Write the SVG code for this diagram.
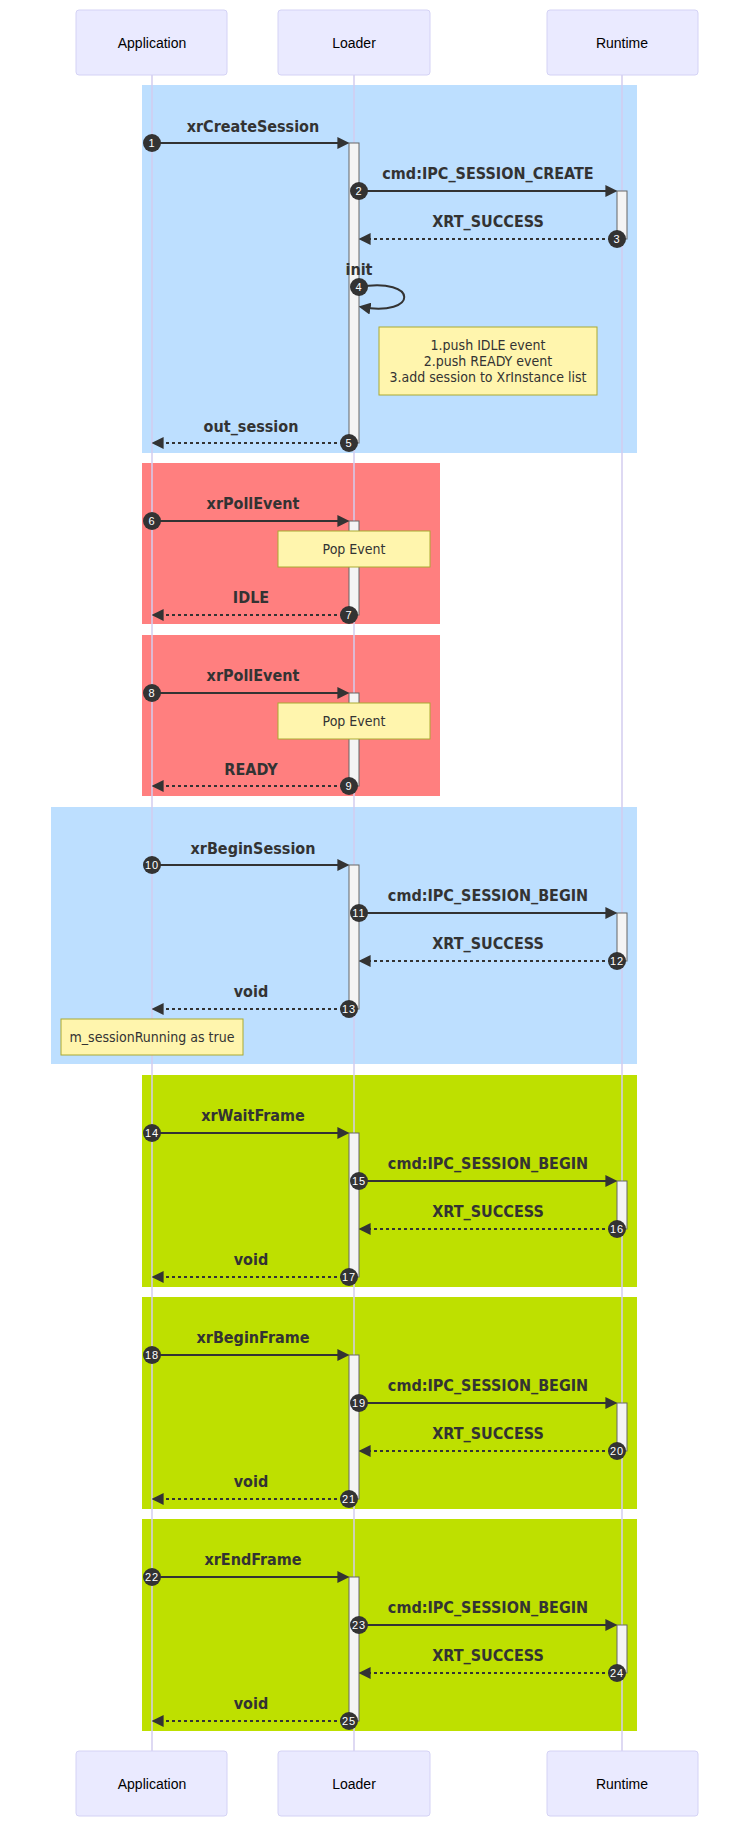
<svg xmlns="http://www.w3.org/2000/svg" width="740" height="1827" viewBox="0 0 740 1827">
<style>
.actor{fill:#eaeaff;stroke:#d4d2f5;stroke-width:1}
.alab{font-family:"Liberation Sans",Arial,sans-serif;font-size:14px;fill:#000;text-anchor:middle}
.life{stroke:#d3cdef;stroke-width:1.5}
.msg{stroke:#333;stroke-width:2;fill:none}
.dash{stroke-dasharray:3,3}
.mlab{font-family:"DejaVu Sans Condensed","DejaVu Sans",sans-serif;font-size:16px;font-weight:bold;fill:#333;text-anchor:middle}
.act{fill:#f4f4f4;stroke:#666;stroke-width:1}
.note{fill:#fff5ad;stroke:#aaaa33;stroke-width:1}
.nlab{font-family:"DejaVu Sans Condensed","DejaVu Sans",sans-serif;font-size:14px;fill:#333;text-anchor:middle}
.num circle{fill:#333}
.num text{font-family:"Liberation Sans",Arial,sans-serif;font-size:11px;fill:#fff;text-anchor:middle;letter-spacing:1px}
</style>
<defs>
<marker id="ah" markerUnits="userSpaceOnUse" markerWidth="12" markerHeight="12" refX="8" refY="5" orient="auto" viewBox="0 0 10 10"><path d="M0 0 L10 5 L0 10 z" fill="#333"/></marker>
</defs>
<g id="frames">
<rect x="142" y="85" width="495" height="368" fill="#bddfff"/>
<rect x="142" y="463" width="298" height="161" fill="#ff7f7f"/>
<rect x="142" y="635" width="298" height="161" fill="#ff7f7f"/>
<rect x="51" y="807" width="586" height="257" fill="#bddfff"/>
<rect x="142" y="1075" width="495" height="212" fill="#bee000"/>
<rect x="142" y="1297" width="495" height="212" fill="#bee000"/>
<rect x="142" y="1519" width="495" height="212" fill="#bee000"/>
</g>
<g id="lifelines">
<line class="life" x1="152" y1="75" x2="152" y2="1751"/>
<line class="life" x1="354" y1="75" x2="354" y2="1751"/>
<line class="life" x1="622" y1="75" x2="622" y2="1751"/>
</g>
<g id="actor-application-top"><rect class="actor" x="76" y="10" width="151" height="65" rx="3"/><text class="alab" x="152" y="48">Application</text></g>
<g id="actor-loader-top"><rect class="actor" x="278" y="10" width="152" height="65" rx="3"/><text class="alab" x="354" y="48">Loader</text></g>
<g id="actor-runtime-top"><rect class="actor" x="547" y="10" width="151" height="65" rx="3"/><text class="alab" x="622" y="48">Runtime</text></g>
<g id="actor-application-bottom"><rect class="actor" x="76" y="1751" width="151" height="65" rx="3"/><text class="alab" x="152" y="1789">Application</text></g>
<g id="actor-loader-bottom"><rect class="actor" x="278" y="1751" width="152" height="65" rx="3"/><text class="alab" x="354" y="1789">Loader</text></g>
<g id="actor-runtime-bottom"><rect class="actor" x="547" y="1751" width="151" height="65" rx="3"/><text class="alab" x="622" y="1789">Runtime</text></g>
<g id="activations">
<rect class="act" x="349" y="143" width="10" height="300"/>
<rect class="act" x="617" y="191" width="10" height="48"/>
<rect class="act" x="349" y="521" width="10" height="94"/>
<rect class="act" x="349" y="693" width="10" height="93"/>
<rect class="act" x="349" y="865" width="10" height="144"/>
<rect class="act" x="617" y="913" width="10" height="48"/>
<rect class="act" x="349" y="1133" width="10" height="144"/>
<rect class="act" x="617" y="1181" width="10" height="48"/>
<rect class="act" x="349" y="1355" width="10" height="144"/>
<rect class="act" x="617" y="1403" width="10" height="48"/>
<rect class="act" x="349" y="1577" width="10" height="144"/>
<rect class="act" x="617" y="1625" width="10" height="48"/>
</g>
<g id="notes">
<g id="note-init"><rect class="note" x="379" y="327" width="218" height="68"/><text class="nlab" x="488" y="350">1.push IDLE event</text><text class="nlab" x="488" y="366">2.push READY event</text><text class="nlab" x="488" y="382">3.add session to XrInstance list</text></g>
<g id="note-pop1"><rect class="note" x="278" y="531" width="152" height="36"/><text class="nlab" x="354" y="554">Pop Event</text></g>
<g id="note-pop2"><rect class="note" x="278" y="703" width="152" height="36"/><text class="nlab" x="354" y="726">Pop Event</text></g>
<g id="note-running"><rect class="note" x="61" y="1019" width="182" height="36"/><text class="nlab" x="152" y="1042">m_sessionRunning as true</text></g>
</g>
<g id="connectors">
<line class="msg" x1="152" y1="143" x2="347" y2="143" marker-end="url(#ah)"/>
<line class="msg" x1="359" y1="191" x2="615" y2="191" marker-end="url(#ah)"/>
<line class="msg dash" x1="617" y1="239" x2="361" y2="239" marker-end="url(#ah)"/>
<path class="msg" d="M359 287 C419 277 419 317 361 307" marker-end="url(#ah)"/>
<line class="msg dash" x1="349" y1="443" x2="154" y2="443" marker-end="url(#ah)"/>
<line class="msg" x1="152" y1="521" x2="347" y2="521" marker-end="url(#ah)"/>
<line class="msg dash" x1="349" y1="615" x2="154" y2="615" marker-end="url(#ah)"/>
<line class="msg" x1="152" y1="693" x2="347" y2="693" marker-end="url(#ah)"/>
<line class="msg dash" x1="349" y1="786" x2="154" y2="786" marker-end="url(#ah)"/>
<line class="msg" x1="152" y1="865" x2="347" y2="865" marker-end="url(#ah)"/>
<line class="msg" x1="359" y1="913" x2="615" y2="913" marker-end="url(#ah)"/>
<line class="msg dash" x1="617" y1="961" x2="361" y2="961" marker-end="url(#ah)"/>
<line class="msg dash" x1="349" y1="1009" x2="154" y2="1009" marker-end="url(#ah)"/>
<line class="msg" x1="152" y1="1133" x2="347" y2="1133" marker-end="url(#ah)"/>
<line class="msg" x1="359" y1="1181" x2="615" y2="1181" marker-end="url(#ah)"/>
<line class="msg dash" x1="617" y1="1229" x2="361" y2="1229" marker-end="url(#ah)"/>
<line class="msg dash" x1="349" y1="1277" x2="154" y2="1277" marker-end="url(#ah)"/>
<line class="msg" x1="152" y1="1355" x2="347" y2="1355" marker-end="url(#ah)"/>
<line class="msg" x1="359" y1="1403" x2="615" y2="1403" marker-end="url(#ah)"/>
<line class="msg dash" x1="617" y1="1451" x2="361" y2="1451" marker-end="url(#ah)"/>
<line class="msg dash" x1="349" y1="1499" x2="154" y2="1499" marker-end="url(#ah)"/>
<line class="msg" x1="152" y1="1577" x2="347" y2="1577" marker-end="url(#ah)"/>
<line class="msg" x1="359" y1="1625" x2="615" y2="1625" marker-end="url(#ah)"/>
<line class="msg dash" x1="617" y1="1673" x2="361" y2="1673" marker-end="url(#ah)"/>
<line class="msg dash" x1="349" y1="1721" x2="154" y2="1721" marker-end="url(#ah)"/>
</g>
<g id="message-labels">
<text class="mlab" x="253" y="132">xrCreateSession</text>
<text class="mlab" x="488" y="179">cmd:IPC_SESSION_CREATE</text>
<text class="mlab" x="488" y="227">XRT_SUCCESS</text>
<text class="mlab" x="359" y="275">init</text>
<text class="mlab" x="251" y="432">out_session</text>
<text class="mlab" x="253" y="509">xrPollEvent</text>
<text class="mlab" x="251" y="603">IDLE</text>
<text class="mlab" x="253" y="681">xrPollEvent</text>
<text class="mlab" x="251" y="775">READY</text>
<text class="mlab" x="253" y="854">xrBeginSession</text>
<text class="mlab" x="488" y="901">cmd:IPC_SESSION_BEGIN</text>
<text class="mlab" x="488" y="949">XRT_SUCCESS</text>
<text class="mlab" x="251" y="997">void</text>
<text class="mlab" x="253" y="1121">xrWaitFrame</text>
<text class="mlab" x="488" y="1169">cmd:IPC_SESSION_BEGIN</text>
<text class="mlab" x="488" y="1217">XRT_SUCCESS</text>
<text class="mlab" x="251" y="1265">void</text>
<text class="mlab" x="253" y="1343">xrBeginFrame</text>
<text class="mlab" x="488" y="1391">cmd:IPC_SESSION_BEGIN</text>
<text class="mlab" x="488" y="1439">XRT_SUCCESS</text>
<text class="mlab" x="251" y="1487">void</text>
<text class="mlab" x="253" y="1565">xrEndFrame</text>
<text class="mlab" x="488" y="1613">cmd:IPC_SESSION_BEGIN</text>
<text class="mlab" x="488" y="1661">XRT_SUCCESS</text>
<text class="mlab" x="251" y="1709">void</text>
</g>
<g id="sequence-numbers" class="num">
<circle cx="152" cy="143" r="9"/><text x="152" y="147">1</text>
<circle cx="359" cy="191" r="9"/><text x="359" y="195">2</text>
<circle cx="617" cy="239" r="9"/><text x="617" y="243">3</text>
<circle cx="359" cy="287" r="9"/><text x="359" y="291">4</text>
<circle cx="349" cy="443" r="9"/><text x="349" y="447">5</text>
<circle cx="152" cy="521" r="9"/><text x="152" y="525">6</text>
<circle cx="349" cy="615" r="9"/><text x="349" y="619">7</text>
<circle cx="152" cy="693" r="9"/><text x="152" y="697">8</text>
<circle cx="349" cy="786" r="9"/><text x="349" y="790">9</text>
<circle cx="152" cy="865" r="9"/><text x="152" y="869">10</text>
<circle cx="359" cy="913" r="9"/><text x="359" y="917">11</text>
<circle cx="617" cy="961" r="9"/><text x="617" y="965">12</text>
<circle cx="349" cy="1009" r="9"/><text x="349" y="1013">13</text>
<circle cx="152" cy="1133" r="9"/><text x="152" y="1137">14</text>
<circle cx="359" cy="1181" r="9"/><text x="359" y="1185">15</text>
<circle cx="617" cy="1229" r="9"/><text x="617" y="1233">16</text>
<circle cx="349" cy="1277" r="9"/><text x="349" y="1281">17</text>
<circle cx="152" cy="1355" r="9"/><text x="152" y="1359">18</text>
<circle cx="359" cy="1403" r="9"/><text x="359" y="1407">19</text>
<circle cx="617" cy="1451" r="9"/><text x="617" y="1455">20</text>
<circle cx="349" cy="1499" r="9"/><text x="349" y="1503">21</text>
<circle cx="152" cy="1577" r="9"/><text x="152" y="1581">22</text>
<circle cx="359" cy="1625" r="9"/><text x="359" y="1629">23</text>
<circle cx="617" cy="1673" r="9"/><text x="617" y="1677">24</text>
<circle cx="349" cy="1721" r="9"/><text x="349" y="1725">25</text>
</g>
</svg>
